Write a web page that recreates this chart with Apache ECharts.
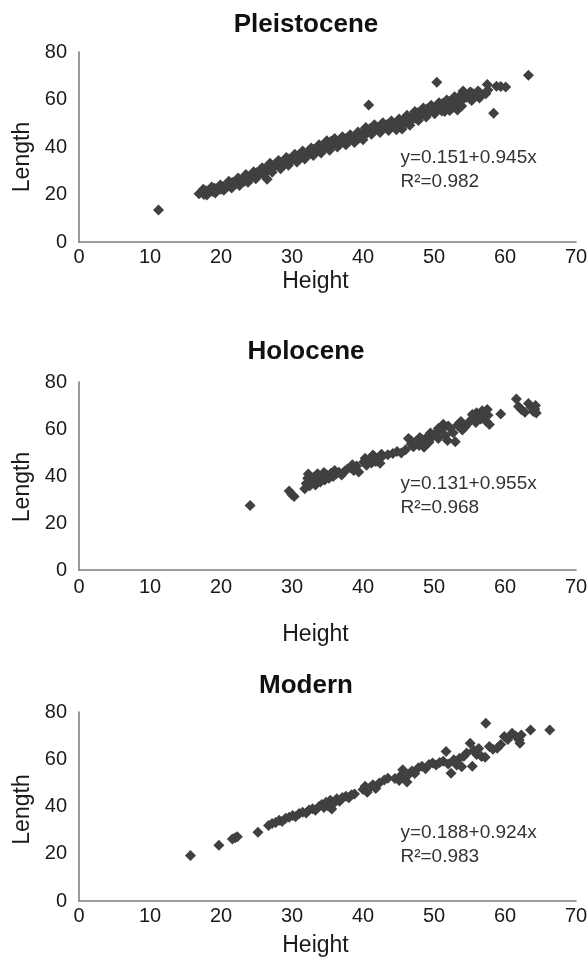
<!DOCTYPE html>
<html>
<head>
  <meta charset="utf-8">
  <title>Length vs Height</title>
  <script src="https://cdn.jsdelivr.net/npm/echarts@6/dist/echarts.min.js"></script>
  <style>html, body { margin: 0; padding: 0; background: #fff; }</style>
</head>
<body>
  <div id="main" style="width:587px;height:961px;"></div>
  <script type="text/javascript">
    // panel names and axis names
    var panelTitles = ['Pleistocene', 'Holocene', 'Modern'];
    var xName = 'Height';
    var yName = 'Length';
    var xMin = 0, xMax = 70, xStep = 10;
    var yMin = 0, yMax = 80, yStep = 20;

    // regression text of each panel
    var equations = ['y=0.151+0.945x', 'y=0.131+0.955x', 'y=0.188+0.924x'];
    var rSquared = ['R\u00b2=0.982', 'R\u00b2=0.968', 'R\u00b2=0.983'];

    // [height, length]
    var pleistocene = [
      [11.2,13.5],
      [16.9,20.3],[17.3,21.2],[17.6,20.0],[17.9,21.6],[18.2,20.8],[18.5,22.1],[18.8,21.3],[19.1,22.6],[19.4,21.5],
      [19.7,23.0],[20.0,22.2],[20.3,23.4],[20.6,22.8],[21.0,24.2],[21.3,23.5],[21.6,25.1],[22.0,24.4],[22.3,25.8],
      [22.7,24.9],[23.0,26.5],[23.3,25.6],[23.7,27.4],[24.0,26.8],[24.3,28.3],[24.7,27.5],[25.0,29.2],[25.3,28.4],
      [25.7,30.1],[26.0,29.6],[26.3,31.2],[26.5,26.4],[26.7,30.5],[27.0,32.0],[27.3,31.1],[27.6,32.8],[28.0,32.2],
      [28.3,33.6],[28.6,31.9],[29.0,34.3],[29.3,33.4],[29.6,35.0],[30.0,34.6],[30.3,35.9],[30.6,35.1],[31.0,36.7],
      [31.3,35.8],[31.6,37.4],[32.0,36.6],[32.3,38.2],[32.6,37.3],[33.0,39.0],[33.3,38.0],[33.6,39.8],[34.0,38.6],
      [34.3,40.6],[34.6,39.4],[35.0,41.5],[35.2,40.0],[35.5,42.4],[35.8,41.0],[36.2,42.7],[36.5,41.6],[36.9,43.3],
      [37.2,42.1],[37.6,43.6],[38.0,42.6],[38.3,44.2],[38.7,43.1],[39.0,44.9],[39.4,43.7],[39.7,45.8],[40.0,44.8],
      [40.3,46.9],[40.6,45.9],[40.8,57.7],[41.0,47.8],[41.4,46.8],[41.8,48.6],[42.2,47.6],[42.6,49.2],[43.0,48.2],
      [43.4,49.5],[43.8,48.6],[44.2,50.0],[44.7,47.3],[45.0,50.6],[45.3,49.2],[45.7,51.5],[46.0,50.2],[46.3,52.4],
      [46.7,51.0],[47.0,53.3],[47.4,52.1],[47.7,54.4],[48.0,53.0],[48.4,55.2],[48.7,54.0],[49.0,56.0],[49.4,55.0],
      [49.7,56.8],[50.0,55.8],[50.4,67.3],[50.4,57.5],[50.8,56.5],[51.2,58.3],[51.5,55.0],[51.8,57.6],[52.2,59.2],
      [52.5,56.2],[52.8,58.4],[53.1,60.2],[53.3,55.6],[53.4,58.9],[53.7,61.3],[54.0,59.8],[54.1,63.6],[54.3,62.3],
      [54.6,61.0],[55.0,61.7],[55.2,63.0],[55.5,62.4],[56.0,61.9],[56.5,62.7],[57.3,62.4],[57.5,66.3],[57.6,64.0],
      [58.4,54.2],[58.8,65.6],[59.4,65.5],[60.1,65.3],[63.3,70.2],
      // upper edge of the band
      [17.5,22.2],[18.7,23.2],[19.9,24.0],[21.1,25.6],[22.4,27.0],[23.5,28.4],[24.6,29.6],[25.8,31.3],[26.9,33.2],
      [28.1,34.3],[29.2,35.6],[30.4,37.0],[31.5,38.3],[32.7,39.6],[33.8,41.0],[34.9,42.6],[36.0,43.6],[37.1,44.3],
      [38.2,45.2],[39.3,46.3],[40.4,48.2],[41.6,49.4],[42.8,50.2],[44.0,51.0],[45.1,51.8],[46.2,53.4],[47.3,55.0],
      [48.5,56.4],[49.6,57.6],[50.7,58.6],[51.8,59.8],[52.9,61.2],[54.0,62.6],[55.1,63.2],[56.2,63.6],
      // lower edge of the band
      [18.0,19.8],[19.2,20.6],[20.4,21.8],[21.5,22.7],[22.6,23.8],[23.8,25.2],[24.9,26.6],[26.0,28.2],[27.2,29.4],
      [28.4,30.8],[29.5,32.3],[30.7,33.7],[31.8,34.9],[33.0,36.4],[34.1,37.5],[35.3,38.6],[36.4,40.0],[37.6,41.0],
      [38.8,41.9],[40.0,43.1],[41.2,45.4],[42.4,46.1],[43.6,47.0],[45.5,47.6],[46.6,49.2],[47.8,51.2],[48.9,52.6],
      [50.1,54.0],[51.1,55.2],[52.2,55.4],[53.9,57.3],[55.3,59.6],[56.4,60.6]
    ];

    var holocene = [
      [24.1,27.4],
      [29.6,33.6],[30.0,32.0],[30.3,31.3],
      [31.8,34.6],[32.0,36.8],[32.2,39.0],[32.3,40.8],[32.5,35.8],[32.7,38.0],[32.9,37.0],[33.1,39.6],[33.3,36.2],
      [33.5,38.5],[33.8,40.0],[34.0,37.5],[34.3,39.2],[34.6,38.3],[34.9,40.4],[35.2,39.0],[35.5,41.2],[35.8,39.8],
      [36.2,40.8],[36.6,41.6],[37.0,40.4],[37.4,42.0],[38.3,43.4],[38.7,42.3],[39.1,44.3],[39.4,41.7],[40.1,46.0],
      [40.5,44.6],[40.9,47.1],[41.2,45.5],[41.6,48.3],[41.8,46.2],[42.1,47.5],[42.4,45.4],[42.8,48.6],[44.2,49.6],
      [44.8,50.4],[45.4,49.8],[46.0,51.2],[46.4,56.0],[46.8,53.6],[47.1,52.4],[47.5,54.8],[47.9,53.0],[48.3,55.6],
      [48.6,52.2],[49.0,56.5],[49.3,54.4],[49.8,56.8],[50.2,58.2],[50.6,56.0],[51.0,59.6],[51.3,62.0],[51.6,57.2],
      [51.9,55.1],[52.3,60.3],[52.7,58.4],[53.0,54.6],[53.3,61.6],[53.6,62.6],[54.0,59.6],[54.4,61.0],[54.8,62.4],
      [55.2,63.8],[55.6,65.0],[55.9,62.8],[56.3,66.2],[56.6,64.3],[57.0,67.0],[57.3,63.4],[57.6,65.8],[57.8,61.9],
      [59.4,66.4],[61.6,72.8],[61.9,69.6],[62.3,68.3],[62.8,67.1],[63.3,70.8],[63.7,69.3],[64.0,67.4],[64.3,70.0],
      [64.2,68.4],[64.4,66.8],
      [33.6,41.0],[34.5,41.5],[36.0,42.3],[37.8,43.0],[38.5,44.8],[40.3,47.6],[41.4,48.9],[42.6,49.3],[43.5,49.0],
      [46.7,55.2],[48.0,56.4],[49.5,58.3],[50.6,60.2],[52.0,61.3],[53.8,63.2],[55.4,66.2],[56.0,66.9],[56.8,67.8],
      [57.5,68.3]
    ];

    var modern = [
      [15.7,19.3],[19.7,23.6],[21.6,26.2],[22.0,26.8],[22.3,27.2],[25.2,29.1],
      [26.7,32.0],[27.2,32.8],[27.7,33.2],[28.2,34.2],[28.6,33.6],[29.1,35.0],[29.6,35.4],[30.1,36.2],[30.5,35.7],
      [31.0,37.0],[31.5,37.6],[32.0,37.2],[32.4,38.5],[32.9,39.0],[33.3,38.4],[33.8,40.0],[34.2,40.8],[34.5,39.6],
      [34.8,41.8],[35.1,40.2],[35.4,42.6],[35.6,38.9],[35.9,41.4],[36.3,43.3],[36.7,42.2],[37.1,43.8],[37.6,44.3],
      [38.0,43.7],[38.4,45.0],[38.8,45.3],[40.0,47.2],[40.3,48.6],[40.6,46.0],[41.0,48.0],[41.4,49.2],[41.8,47.6],
      [42.3,50.0],[43.0,51.2],[43.5,52.0],[44.5,51.8],[45.1,51.0],[45.4,53.3],[45.6,55.6],[45.9,52.2],[46.2,50.4],
      [46.5,53.8],[46.9,55.0],[47.3,54.0],[47.8,56.4],[48.3,57.0],[48.8,56.0],[49.3,57.8],[49.8,58.4],[50.3,57.6],
      [50.8,58.6],[51.3,59.2],[51.7,63.3],[52.0,58.0],[52.4,54.1],[52.8,59.8],[53.2,57.6],[53.6,60.4],[53.9,56.8],
      [54.2,61.3],[54.6,62.6],[55.1,66.8],[55.4,57.0],[55.6,63.8],[56.0,62.0],[56.3,64.6],[56.7,61.2],[57.3,75.2],
      [57.2,60.8],[57.8,65.4],[58.3,64.2],[58.9,64.7],[59.4,66.2],[59.9,69.6],[60.4,68.4],[61.0,71.0],[61.5,69.8],
      [62.0,68.2],[62.3,70.3],[62.1,66.8],[63.6,72.4],[66.3,72.4]
    ];

    var panelData = [pleistocene, holocene, modern];

    // layout of each panel (pixels)
    var layout = [
      { top: 52,  height: 190, titleTop: 7,   xNameGap: 28, xLabelMargin: 5, yNameShift: 10, note: [45.2, 30.3] },
      { top: 382, height: 188, titleTop: 334, xNameGap: 53, xLabelMargin: 7, yNameShift: 11, note: [45.2, 31.7] },
      { top: 712, height: 189, titleTop: 668, xNameGap: 33, xLabelMargin: 5, yNameShift: 3,  note: [45.2, 23.7] }
    ];

    var font = 'Liberation Sans, Arial, Helvetica, sans-serif';
    var axisColor = '#7f7f7f';
    var dotColor = '#404040';

    var titles = [], grids = [], xAxes = [], yAxes = [], series = [];

    for (var i = 0; i < 3; i++) {
      var L = layout[i];
      titles.push({
        text: panelTitles[i],
        left: 301,
        top: L.titleTop,
        textAlign: 'center',
        textStyle: { fontFamily: font, fontSize: 26, fontWeight: 'bold', color: '#111' }
      });
      grids.push({ left: 79, right: 11, top: L.top, height: L.height, outerBoundsMode: 'none', containLabel: false });
      xAxes.push({
        gridIndex: i,
        type: 'value',
        min: xMin, max: xMax, interval: xStep,
        name: xName,
        nameLocation: 'middle',
        nameGap: L.xNameGap,
        nameTextStyle: { fontFamily: font, fontSize: 23, color: '#1a1a1a', padding: [0, 24, 0, 0] },
        axisLine: { show: true, onZero: false, lineStyle: { color: axisColor, width: 1.6 } },
        axisTick: { show: false },
        splitLine: { show: false },
        axisLabel: { fontFamily: font, fontSize: 20, color: '#1a1a1a', margin: L.xLabelMargin, showMaxLabel: true, showMinLabel: true }
      });
      yAxes.push({
        gridIndex: i,
        type: 'value',
        min: yMin, max: yMax, interval: yStep,
        name: yName,
        nameLocation: 'middle',
        nameGap: 44,
        // padding moves the rotated name down along the axis
        nameTextStyle: { fontFamily: font, fontSize: 23, color: '#1a1a1a', padding: [0, 2 * L.yNameShift, 0, 0] },
        axisLine: { show: true, onZero: false, lineStyle: { color: axisColor, width: 1.6 } },
        axisTick: { show: false },
        splitLine: { show: false },
        axisLabel: { fontFamily: font, fontSize: 20, color: '#1a1a1a', margin: 12 }
      });
      series.push({
        type: 'scatter',
        xAxisIndex: i,
        yAxisIndex: i,
        data: panelData[i],
        symbol: 'diamond',
        symbolSize: 11,
        itemStyle: { color: dotColor, opacity: 1 },
        markPoint: {
          silent: true,
          symbol: 'circle',
          symbolSize: 1,
          itemStyle: { color: 'rgba(0,0,0,0)' },
          data: [{ coord: L.note }],
          label: {
            show: true,
            position: 'right',
            distance: 0,
            formatter: equations[i] + '\n' + rSquared[i],
            fontFamily: font,
            fontSize: 19,
            lineHeight: 24,
            color: '#333'
          }
        }
      });
    }

    var myChart = echarts.init(document.getElementById('main'));
    myChart.setOption({
      animation: false,
      backgroundColor: '#fff',
      title: titles,
      grid: grids,
      xAxis: xAxes,
      yAxis: yAxes,
      series: series
    });
  </script>
</body>
</html>
